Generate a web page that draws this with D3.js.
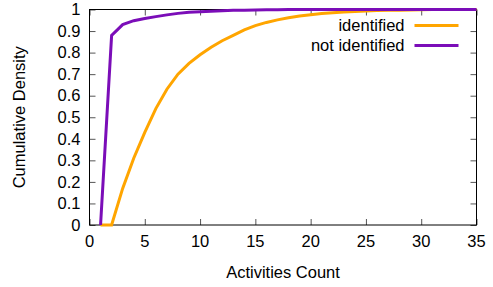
<!DOCTYPE html>
<html>
<head>
<meta charset="utf-8">
<script src="https://cdn.jsdelivr.net/npm/d3@7"></script>
<style>
  body { margin: 0; background: #fff; }
  text { font-family: "Liberation Sans", Arial, sans-serif; fill: #000; }
</style>
</head>
<body>
<svg id="chart"></svg>
<script>
const ACTIVITIES = d3.range(1, 36);
const IDENTIFIED = [
  0, 0, 0.17, 0.31, 0.43, 0.54, 0.63, 0.70, 0.75, 0.79,
  0.825, 0.855, 0.88, 0.905, 0.925, 0.94, 0.952, 0.962, 0.97, 0.976,
  0.981, 0.985, 0.988, 0.991, 0.993, 0.995, 0.996, 0.997, 0.998, 0.999,
  1, 1, 1, 1, 1,
];
const NOT_IDENTIFIED = [
  0, 0.88, 0.93, 0.948, 0.958, 0.967, 0.975, 0.982, 0.987, 0.99,
  0.992, 0.994, 0.996, 0.997, 0.998, 0.999, 0.999, 1, 1, 1,
  1, 1, 1, 1, 1, 1, 1, 1, 1, 1,
  1, 1, 1, 1, 1,
];
const X_TICKS = [0, 5, 10, 15, 20, 25, 30, 35];
const Y_TICKS = [0, 0.1, 0.2, 0.3, 0.4, 0.5, 0.6, 0.7, 0.8, 0.9, 1];
const SERIES = [
  { name: "identified", color: "#ffa500", values: IDENTIFIED },
  { name: "not identified", color: "#7b0db8", values: NOT_IDENTIFIED },
];

const width = 493, height = 287;
const margin = { top: 9.5, right: 16.5, bottom: 62, left: 89.5 };
const innerW = width - margin.left - margin.right;
const innerH = height - margin.top - margin.bottom;
const FONT = "16.5px";

const svg = d3.select("#chart").attr("width", width).attr("height", height);
const chart = svg.append("g")
  .attr("transform", `translate(${margin.left}, ${margin.top})`);

const xScale = d3.scaleLinear().domain([0, 35]).range([0, innerW]);
const yScale = d3.scaleLinear().domain([0, 1]).range([innerH, 0]);

// Inward ticks on all four sides (gnuplot mirror style)
const tickLen = 6;
chart.append("g")
  .attr("transform", `translate(0, ${innerH})`)
  .call(d3.axisTop(xScale).tickValues(X_TICKS).tickSize(tickLen).tickFormat(""))
  .call((g) => g.select(".domain").remove());
chart.append("g")
  .call(d3.axisBottom(xScale).tickValues(X_TICKS).tickSize(tickLen).tickFormat(""))
  .call((g) => g.select(".domain").remove());
chart.append("g")
  .call(d3.axisRight(yScale).tickValues(Y_TICKS).tickSize(tickLen).tickFormat(""))
  .call((g) => g.select(".domain").remove());
chart.append("g")
  .attr("transform", `translate(${innerW}, 0)`)
  .call(d3.axisLeft(yScale).tickValues(Y_TICKS).tickSize(tickLen).tickFormat(""))
  .call((g) => g.select(".domain").remove());
chart.selectAll(".tick line").attr("stroke", "#555");

// Tick labels
chart.append("g")
  .selectAll("text")
  .data(X_TICKS)
  .join("text")
  .attr("x", (d) => xScale(d))
  .attr("y", innerH + 22)
  .attr("text-anchor", "middle")
  .style("font-size", FONT)
  .text((d) => d);
chart.append("g")
  .selectAll("text")
  .data(Y_TICKS)
  .join("text")
  .attr("x", -9)
  .attr("y", (d) => yScale(d))
  .attr("dy", "0.35em")
  .attr("text-anchor", "end")
  .style("font-size", FONT)
  .text((d) => d3.format("~g")(d));

// Frame
chart.append("rect")
  .attr("width", innerW)
  .attr("height", innerH)
  .attr("fill", "none")
  .attr("stroke", "#000")
  .attr("stroke-width", 1);

// Lines
const line = d3.line()
  .x((d, i) => xScale(ACTIVITIES[i]))
  .y((d) => yScale(d));
chart.selectAll(".series")
  .data(SERIES)
  .join("path")
  .attr("class", "series")
  .attr("fill", "none")
  .attr("stroke", (d) => d.color)
  .attr("stroke-width", 3)
  .attr("stroke-linejoin", "miter")
  .attr("d", (d) => line(d.values));

// Legend
const legend = chart.append("g")
  .attr("transform", `translate(${innerW}, 0)`);
SERIES.forEach((s, i) => {
  const y = 16 + i * 20;
  legend.append("line")
    .attr("x1", -62).attr("x2", -18)
    .attr("y1", y).attr("y2", y)
    .attr("stroke", s.color)
    .attr("stroke-width", 3);
  legend.append("text")
    .attr("x", -72)
    .attr("y", y)
    .attr("dy", "0.35em")
    .attr("text-anchor", "end")
    .style("font-size", FONT)
    .text(s.name);
});

// Axis titles
svg.append("text")
  .attr("x", margin.left + innerW / 2)
  .attr("y", 278)
  .attr("text-anchor", "middle")
  .style("font-size", FONT)
  .text("Activities Count");
svg.append("text")
  .attr("transform", `translate(25, ${margin.top + innerH / 2}) rotate(-90)`)
  .attr("text-anchor", "middle")
  .style("font-size", FONT)
  .text("Cumulative Density");
</script>
</body>
</html>
